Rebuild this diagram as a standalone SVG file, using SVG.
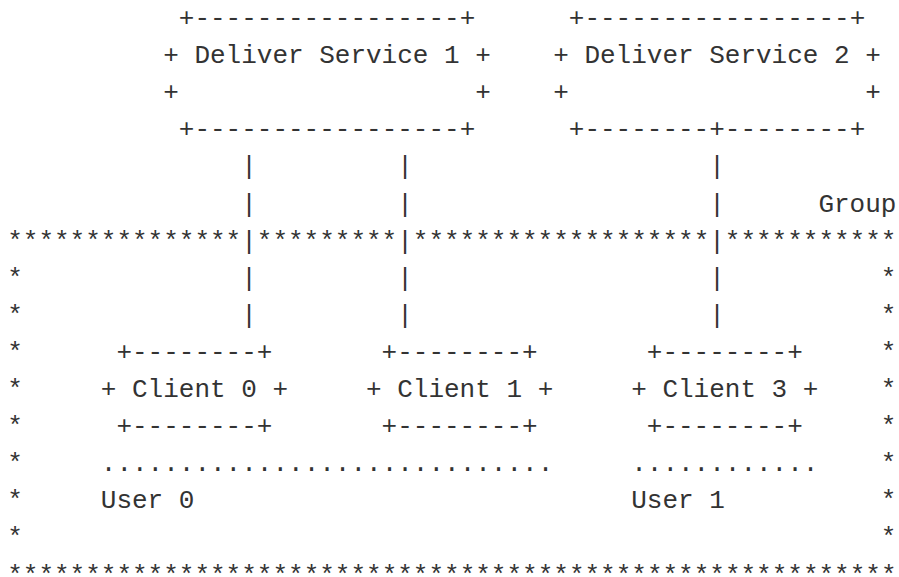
<svg xmlns="http://www.w3.org/2000/svg" width="899" height="577" viewBox="0 0 899 577">
<style>
text{font-family:"Liberation Mono","DejaVu Sans Mono",monospace;font-size:26px;fill:#333;white-space:pre}
</style>
<rect width="899" height="577" fill="#fff"/>
<g id="deliver-service-1">
<text x="178.8" y="26">+-----------------+</text>
<text x="163.2" y="63.1">+ Deliver Service 1 +</text>
<text x="163.2" y="100.2">+</text>
<text x="475.2" y="100.2">+</text>
<text x="178.8" y="137.3">+-----------------+</text>
</g>
<g id="deliver-service-2">
<text x="568.8" y="26">+-----------------+</text>
<text x="553.2" y="63.1">+ Deliver Service 2 +</text>
<text x="553.2" y="100.2">+</text>
<text x="865.2" y="100.2">+</text>
<text x="568.8" y="137.3">+--------+--------+</text>
</g>
<g id="connectors">
<text x="241.2" y="174.4">|</text><text x="397.2" y="174.4">|</text><text x="709.2" y="174.4">|</text>
<text x="241.2" y="211.5">|</text><text x="397.2" y="211.5">|</text><text x="709.2" y="211.5">|</text>
<text x="241.2" y="248.6">|</text><text x="397.2" y="248.6">|</text><text x="709.2" y="248.6">|</text>
<text x="241.2" y="285.7">|</text><text x="397.2" y="285.7">|</text><text x="709.2" y="285.7">|</text>
<text x="241.2" y="322.8">|</text><text x="397.2" y="322.8">|</text><text x="709.2" y="322.8">|</text>
</g>
<g id="group">
<text x="818.4" y="211.5">Group</text>
<text x="7.2" y="248.6">***************</text>
<text x="256.8" y="248.6">*********</text>
<text x="412.8" y="248.6">*******************</text>
<text x="724.8" y="248.6">***********</text>
<text x="7.2" y="285.7">*</text><text x="880.8" y="285.7">*</text>
<text x="7.2" y="322.8">*</text><text x="880.8" y="322.8">*</text>
<text x="7.2" y="359.9">*</text><text x="880.8" y="359.9">*</text>
<text x="7.2" y="397">*</text><text x="880.8" y="397">*</text>
<text x="7.2" y="434.1">*</text><text x="880.8" y="434.1">*</text>
<text x="7.2" y="471.2">*</text><text x="880.8" y="471.2">*</text>
<text x="7.2" y="508.3">*</text><text x="880.8" y="508.3">*</text>
<text x="7.2" y="545.4">*</text><text x="880.8" y="545.4">*</text>
<text x="7.2" y="582.5">*********************************************************</text>
</g>
<g id="client-0">
<text x="116.4" y="359.9">+--------+</text>
<text x="100.8" y="397">+ Client 0 +</text>
<text x="116.4" y="434.1">+--------+</text>
</g>
<g id="client-1">
<text x="381.6" y="359.9">+--------+</text>
<text x="366" y="397">+ Client 1 +</text>
<text x="381.6" y="434.1">+--------+</text>
</g>
<g id="client-3">
<text x="646.8" y="359.9">+--------+</text>
<text x="631.2" y="397">+ Client 3 +</text>
<text x="646.8" y="434.1">+--------+</text>
</g>
<g id="user-0">
<text x="100.8" y="471.2">.............................</text>
<text x="100.8" y="508.3">User 0</text>
</g>
<g id="user-1">
<text x="631.2" y="471.2">............</text>
<text x="631.2" y="508.3">User 1</text>
</g>
</svg>
